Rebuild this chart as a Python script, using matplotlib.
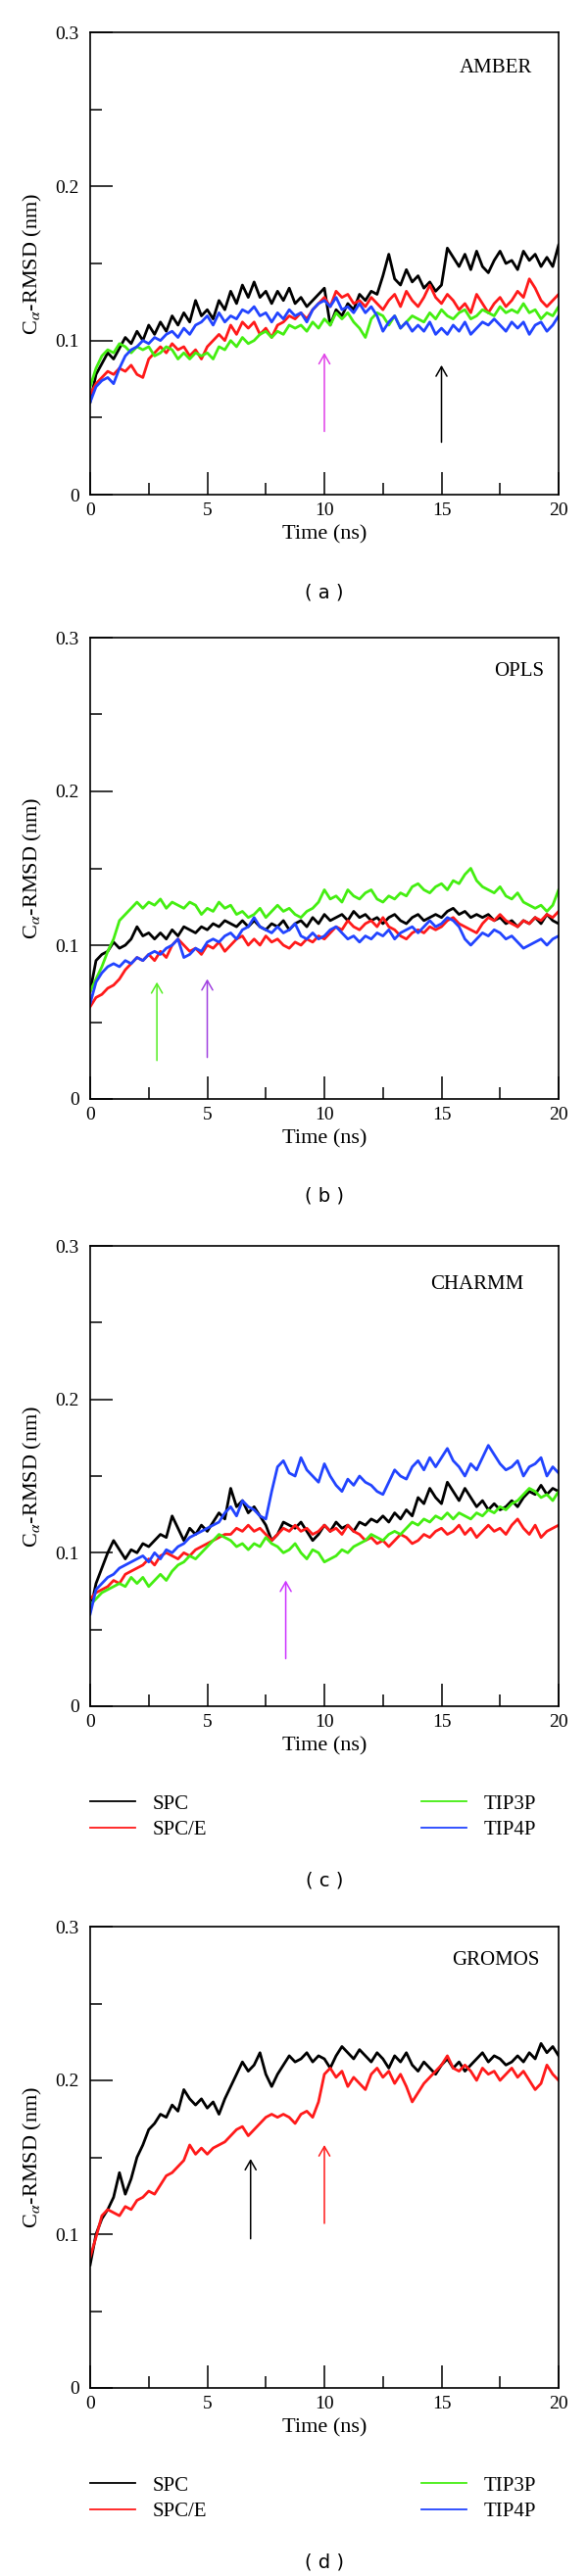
import matplotlib
matplotlib.use("Agg")
import matplotlib.pyplot as plt
import numpy as np
from matplotlib.ticker import MultipleLocator, FuncFormatter

plt.rcParams['font.family'] = ['Liberation Serif', 'DejaVu Serif']
plt.rcParams['mathtext.fontset'] = 'stix'

# RMSD traces, sampled every 0.25 ns from 0 to 20 ns, values in 1e-3 nm
amber_spc = [60, 78, 85, 92, 88, 95, 102, 98, 106, 100, 110, 104, 112, 106, 116, 110, 118, 112, 126, 116,
             120, 114, 126, 120, 132, 124, 136, 128, 138, 128, 132, 124, 132, 126, 134, 124, 128, 122, 126, 130,
             134, 110, 120, 116, 124, 120, 130, 126, 132, 130, 142, 156, 140, 136, 146, 138, 142, 134, 138, 132,
             136, 160, 154, 148, 156, 146, 158, 148, 144, 152, 158, 150, 152, 146, 158, 152, 156, 148, 154, 148, 162]
amber_spce = [65, 72, 76, 80, 78, 82, 80, 84, 78, 76, 88, 92, 96, 92, 98, 94, 96, 90, 94, 88,
              96, 100, 104, 100, 110, 104, 112, 108, 112, 104, 108, 102, 110, 112, 116, 114, 118, 114, 120, 124,
              128, 122, 132, 128, 130, 124, 126, 122, 128, 124, 120, 126, 130, 122, 132, 126, 122, 128, 136, 128,
              124, 130, 126, 120, 124, 118, 130, 124, 118, 124, 128, 122, 126, 132, 128, 140, 134, 126, 122, 126, 130]
amber_tip3p = [70, 82, 90, 94, 92, 98, 96, 92, 96, 94, 96, 90, 92, 96, 94, 88, 92, 88, 92, 90,
               92, 88, 96, 94, 100, 96, 102, 98, 100, 104, 106, 102, 106, 104, 110, 108, 110, 106, 112, 108,
               114, 110, 118, 114, 118, 112, 108, 102, 114, 118, 116, 110, 116, 108, 112, 116, 114, 112, 118, 114,
               120, 116, 114, 118, 120, 114, 116, 120, 118, 116, 122, 118, 120, 118, 124, 118, 120, 114, 118, 116, 122]
amber_tip4p = [60, 70, 74, 76, 72, 82, 90, 94, 96, 100, 98, 102, 100, 104, 106, 102, 108, 104, 110, 112,
               116, 110, 118, 112, 116, 114, 120, 118, 122, 116, 118, 112, 118, 114, 120, 116, 118, 112, 120, 124,
               126, 122, 128, 120, 122, 118, 124, 118, 122, 116, 106, 112, 116, 108, 112, 106, 110, 106, 112, 104,
               108, 104, 110, 106, 112, 104, 108, 112, 110, 114, 110, 106, 112, 108, 112, 104, 110, 112, 106, 110, 116]

opls_spc = [70, 90, 94, 96, 102, 98, 100, 104, 112, 106, 108, 104, 108, 104, 110, 106, 112, 110, 108, 112,
            110, 114, 112, 116, 114, 112, 116, 112, 116, 112, 110, 114, 112, 116, 110, 114, 116, 112, 118, 114,
            120, 116, 118, 120, 116, 122, 118, 120, 116, 118, 114, 118, 120, 116, 114, 118, 120, 116, 118, 120,
            118, 122, 124, 120, 122, 118, 120, 118, 120, 116, 118, 114, 116, 112, 116, 114, 118, 114, 120, 116, 114]
opls_spce = [60, 66, 68, 72, 74, 78, 84, 88, 92, 90, 94, 90, 96, 92, 100, 104, 100, 96, 98, 94,
             100, 98, 102, 96, 100, 104, 106, 100, 104, 100, 106, 102, 104, 100, 98, 102, 100, 104, 102, 106,
             104, 108, 112, 110, 116, 112, 110, 114, 116, 112, 118, 112, 110, 106, 104, 108, 110, 108, 112, 110,
             112, 116, 118, 114, 112, 110, 108, 114, 118, 116, 120, 116, 114, 112, 116, 114, 118, 116, 120, 118, 122]
opls_tip3p = [70, 78, 86, 96, 104, 116, 120, 124, 128, 124, 128, 126, 130, 124, 128, 126, 124, 128, 126, 120,
              124, 122, 128, 124, 126, 120, 122, 118, 120, 124, 118, 122, 126, 122, 124, 120, 118, 122, 124, 128,
              136, 130, 132, 128, 136, 132, 130, 134, 136, 130, 128, 132, 130, 134, 132, 138, 140, 136, 134, 138,
              140, 136, 142, 140, 146, 150, 142, 138, 136, 134, 138, 132, 130, 134, 128, 126, 124, 126, 122, 126, 136]
opls_tip4p = [62, 76, 82, 86, 88, 86, 90, 88, 92, 90, 94, 96, 94, 98, 100, 104, 92, 94, 98, 96,
              102, 104, 102, 106, 108, 104, 110, 112, 118, 112, 110, 108, 112, 108, 110, 114, 106, 104, 108, 104,
              106, 110, 112, 108, 104, 106, 102, 106, 104, 108, 106, 110, 104, 108, 110, 112, 108, 112, 116, 112,
              114, 118, 116, 112, 104, 100, 104, 108, 106, 110, 108, 104, 106, 102, 98, 100, 102, 104, 100, 104, 106]

charmm_spc = [62, 80, 90, 100, 108, 102, 96, 102, 100, 106, 104, 108, 112, 110, 124, 116, 108, 116, 112, 118,
              114, 120, 126, 122, 142, 130, 134, 126, 130, 124, 118, 108, 112, 120, 118, 116, 120, 114, 108, 112,
              118, 114, 120, 116, 118, 114, 120, 118, 122, 120, 124, 120, 126, 122, 128, 124, 136, 132, 142, 136,
              132, 146, 140, 134, 142, 136, 130, 134, 128, 132, 128, 130, 134, 130, 136, 140, 138, 144, 138, 142, 140]
charmm_spce = [70, 74, 76, 78, 82, 80, 86, 88, 90, 92, 96, 92, 98, 100, 98, 96, 100, 98, 102, 104,
               106, 108, 110, 112, 112, 116, 114, 118, 114, 116, 112, 108, 112, 116, 114, 118, 114, 116, 112, 114,
               118, 114, 116, 112, 118, 114, 112, 108, 110, 106, 108, 104, 108, 112, 110, 106, 108, 112, 110, 114,
               116, 112, 114, 118, 112, 116, 110, 114, 118, 114, 116, 112, 118, 122, 116, 112, 118, 110, 114, 116, 118]
charmm_tip3p = [66, 70, 74, 76, 78, 80, 78, 84, 80, 84, 78, 82, 86, 82, 88, 92, 94, 98, 96, 100,
                104, 108, 112, 110, 108, 104, 106, 102, 106, 104, 110, 106, 104, 100, 102, 106, 100, 96, 102, 100,
                94, 96, 98, 102, 100, 104, 106, 108, 112, 110, 108, 112, 114, 112, 116, 120, 118, 122, 120, 124,
                122, 126, 122, 126, 124, 122, 126, 124, 128, 126, 130, 128, 132, 134, 138, 142, 140, 136, 138, 134, 140]
charmm_tip4p = [60, 76, 80, 84, 86, 90, 92, 94, 96, 98, 94, 100, 96, 102, 100, 104, 106, 110, 112, 114,
                116, 118, 120, 126, 130, 124, 134, 130, 128, 124, 122, 140, 156, 160, 152, 150, 162, 154, 150, 146,
                158, 150, 144, 140, 148, 144, 150, 146, 144, 140, 138, 146, 154, 150, 148, 156, 160, 154, 162, 156,
                162, 168, 160, 156, 150, 158, 154, 162, 170, 164, 158, 154, 156, 160, 150, 156, 158, 162, 150, 156, 152]

gromos_spc = [80, 100, 110, 116, 124, 140, 126, 136, 150, 158, 168, 172, 178, 176, 184, 180, 194, 188, 184, 188,
              182, 186, 178, 188, 196, 204, 212, 206, 210, 218, 204, 196, 204, 210, 216, 212, 214, 218, 212, 216,
              214, 208, 216, 222, 218, 214, 220, 216, 212, 218, 214, 208, 216, 212, 218, 210, 206, 212, 208, 204,
              210, 214, 208, 212, 206, 210, 214, 218, 212, 216, 214, 210, 212, 216, 212, 218, 214, 224, 218, 222, 216]
gromos_spce = [85, 98, 112, 116, 114, 112, 118, 116, 122, 124, 128, 126, 132, 138, 140, 144, 148, 158, 152, 156,
               152, 156, 158, 160, 164, 168, 170, 164, 168, 172, 176, 178, 176, 178, 176, 172, 178, 180, 176, 186,
               204, 208, 202, 206, 196, 202, 198, 194, 204, 208, 202, 206, 198, 204, 196, 186, 192, 198, 202, 206,
               210, 216, 208, 206, 210, 206, 200, 208, 204, 206, 200, 204, 208, 202, 206, 200, 194, 198, 210, 204, 200]

water_models = ['SPC', 'SPC/E', 'TIP3P', 'TIP4P']
colors = ['#000000', '#ff1a1a', '#44ee11', '#2244ff']

panels = [
    ('AMBER', '( a )', [amber_spc, amber_spce, amber_tip3p, amber_tip4p]),
    ('OPLS', '( b )', [opls_spc, opls_spce, opls_tip3p, opls_tip4p]),
    ('CHARMM', '( c )', [charmm_spc, charmm_spce, charmm_tip3p, charmm_tip4p]),
    ('GROMOS', '( d )', [gromos_spc, gromos_spce, None, None]),
]
# force-field label position (ns, nm)
ff_label_pos = [(17.3, 0.277), (18.3, 0.278), (16.5, 0.275), (17.3, 0.278)]
# arrows: (time ns, tail nm, tip nm, colour)
arrows = [
    [(10.0, 0.041, 0.092, '#e040e8'), (15.0, 0.034, 0.084, '#000000')],
    [(2.85, 0.025, 0.076, '#55ee22'), (5.0, 0.027, 0.078, '#a040e0')],
    [(8.35, 0.031, 0.082, '#cc33ff')],
    [(6.85, 0.097, 0.149, '#000000'), (10.0, 0.107, 0.158, '#ff1a1a')],
]
show_legend = [False, False, True, True]

# panel boxes in pixels (top, bottom) on a 600 x 2630 canvas
W, H = 600, 2630
ax_left, ax_right = 92, 570
ax_rows = [(33, 505), (651, 1122), (1272, 1742), (1967, 2438)]
label_rows = [605, 1221, 1920, 2616]

fig = plt.figure(figsize=(W / 100, H / 100), dpi=100)

for i, (ff, tag, series) in enumerate(panels):
    top, bot = ax_rows[i]
    ax = fig.add_axes([ax_left / W, 1 - bot / H, (ax_right - ax_left) / W, (bot - top) / H])
    for vals, name, c in zip(series, water_models, colors):
        if vals is None:
            ax.plot([], [], color=c, lw=1.3, label=name)
            continue
        y = np.array(vals) / 1000.0
        t = np.linspace(0, 20, len(y))
        ax.plot(t, y, color=c, lw=2.0, label=name)

    for (tx, tail, tip, c) in arrows[i]:
        ax.annotate('', xy=(tx, tip), xytext=(tx, tail),
                    arrowprops=dict(arrowstyle='->,head_length=0.7,head_width=0.4', color=c, lw=1.1,
                                    shrinkA=0, shrinkB=0))

    ax.text(ff_label_pos[i][0], ff_label_pos[i][1], ff, ha='center', va='center', fontsize=15)

    ax.set_xlim(0, 20)
    ax.set_ylim(0, 0.3)
    ax.xaxis.set_major_locator(MultipleLocator(5))
    ax.xaxis.set_minor_locator(MultipleLocator(2.5))
    ax.yaxis.set_major_locator(MultipleLocator(0.1))
    ax.yaxis.set_minor_locator(MultipleLocator(0.05))
    ax.yaxis.set_major_formatter(FuncFormatter(lambda v, p: '0' if abs(v) < 1e-9 else '%.1f' % v))
    ax.tick_params(which='both', direction='in', top=False, right=False, width=1.1, labelsize=14)
    ax.tick_params(which='major', length=16.5, pad=6)
    ax.tick_params(which='minor', length=8.5)
    ax.tick_params(axis='y', which='major', pad=8)
    for s in ax.spines.values():
        s.set_linewidth(1.2)
    ax.set_xlabel('Time (ns)', fontsize=16, labelpad=4)
    ax.set_ylabel(r'C$_\alpha$-RMSD (nm)', fontsize=16, labelpad=8)

    if show_legend[i]:
        h = bot - top
        leg = ax.legend(loc='upper left', bbox_to_anchor=(0, -90 / h), ncol=2, frameon=False, fontsize=15,
                        handlelength=2.2, handletextpad=0.85, columnspacing=10.5, labelspacing=0.35,
                        borderpad=0, borderaxespad=0)
        for ln in leg.get_lines():
            ln.set_linewidth(1.3)

    fig.text(0.5 * (ax_left + ax_right) / W, 1 - label_rows[i] / H, tag, ha='center', va='center',
             fontsize=14, family='DejaVu Sans')

fig.savefig('out.png', dpi=100)
